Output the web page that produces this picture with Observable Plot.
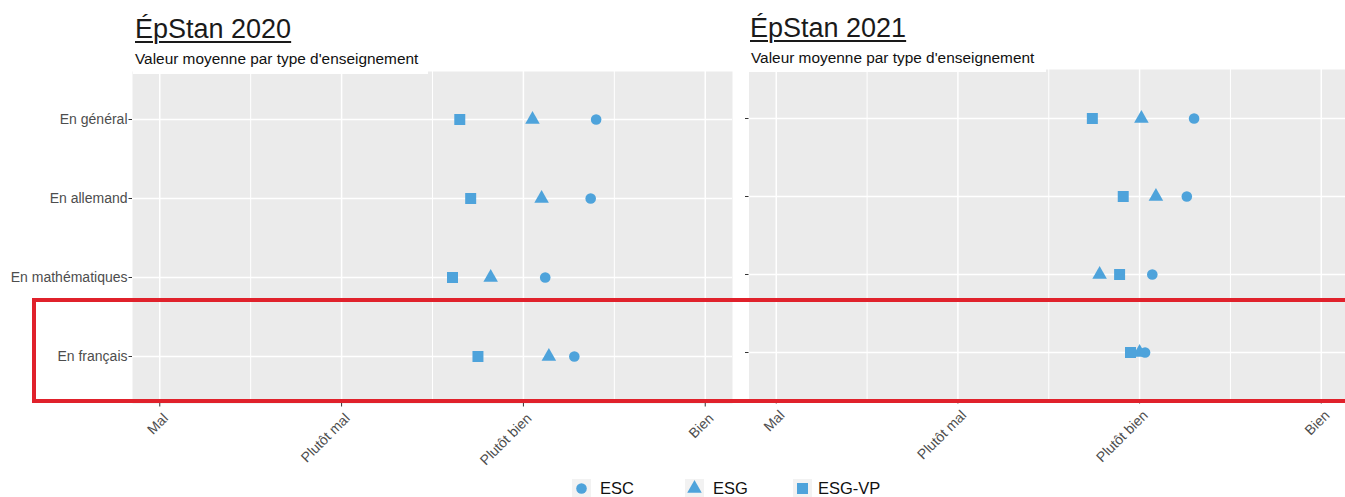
<!DOCTYPE html>
<html><head><meta charset="utf-8">
<script src="https://cdn.jsdelivr.net/npm/d3@7"></script>
<script src="https://cdn.jsdelivr.net/npm/@observablehq/plot@0.6"></script>
<style>
html,body{margin:0;padding:0;background:#fff;overflow:hidden;}
#root{position:relative;width:1345px;height:497px;overflow:hidden;font-family:"Liberation Sans",Arial,sans-serif;}
.abs{position:absolute;}
.title{font-size:27px;line-height:27px;color:#1a1a1a;text-decoration:underline;text-decoration-thickness:2px;text-underline-offset:3px;white-space:nowrap;}
.sub{font-size:15.4px;line-height:17px;color:#111;background:#fff;white-space:nowrap;box-sizing:border-box;padding-left:2px;}
.leg{font-size:16.5px;line-height:16.5px;color:#111;white-space:nowrap;}
.redbox{border:4.5px solid #e0212b;box-sizing:border-box;}
</style></head><body><div id="root"></div>
<script>
// ---- data ----
const subjects = ["En général", "En allemand", "En mathématiques", "En français"];
const seriesNames = ["ESC", "ESG", "ESG-VP"];
const tickValues = [1, 2, 3, 4];
const tickLabels = ["Mal", "Plutôt mal", "Plutôt bien", "Bien"];
const minorTicks = [1.5, 2.5, 3.5];

const esc2020   = [3.40, 3.37, 3.12, 3.28];
const esg2020   = [3.05, 3.10, 2.82, 3.14];
const esgvp2020 = [2.65, 2.71, 2.61, 2.75];

const esc2021   = [3.30, 3.26, 3.07, 3.03];
const esg2021   = [3.01, 3.09, 2.78, 3.00];
const esgvp2021 = [2.74, 2.91, 2.89, 2.95];

const titles = ["ÉpStan 2020", "ÉpStan 2021"];
const subtitle = "Valeur moyenne par type d'enseignement";

const pointColor = "#4ea3db";
const symbols = ["circle", "triangle", "square"];
const radii = [5.3, 5.4, 6.2];

const root = document.getElementById("root");

function rows(vals) { return subjects.map((s, i) => ({subject: s, value: vals[i]})); }

function panel(seriesVals, o) {
  const H = 497;
  return Plot.plot({
    width: o.width, height: H,
    marginTop: o.top, marginBottom: H - o.bottom,
    marginLeft: o.ml, marginRight: o.mr,
    style: {fontFamily: '"Liberation Sans", Arial, sans-serif', fontSize: "14px", color: "#4d4d4d", background: "transparent", overflow: "visible"},
    x: {domain: [0.85, 4.15], label: null},
    y: {type: "point", domain: subjects, padding: 0.6, label: null},
    marks: [
      Plot.frame({fill: "#ebebeb", stroke: null}),
      Plot.ruleX(minorTicks, {stroke: "white", strokeWidth: 1}),
      Plot.ruleX(tickValues, {stroke: "white", strokeWidth: 1.5}),
      Plot.ruleY(subjects, {stroke: "white", strokeWidth: 1.5}),
      Plot.axisY({tickSize: 3.5, tickPadding: 1.5, stroke: "#333", label: null,
        tickFormat: o.ylabels ? (d => d) : (() => "")}),
      Plot.axisX({ticks: tickValues, tickSize: 3.5, stroke: "#333", label: null,
        tickFormat: () => ""}),
      Plot.axisX({ticks: tickValues, tickSize: 0, label: null,
        tickRotate: -45, tickPadding: 6.5, dx: 6, dy: 6,
        tickFormat: d => tickLabels[tickValues.indexOf(d)]}),
      ...seriesVals.map((vals, k) => Plot.dot(rows(vals), {
        x: "value", y: "subject", symbol: symbols[k], r: radii[k],
        fill: pointColor, stroke: null
      }))
    ]
  });
}

const left = panel([esc2020, esg2020, esgvp2020], {width: 740, top: 71, bottom: 403, ml: 132, mr: 8, ylabels: true});
left.style.position = "absolute"; left.style.left = "0px"; left.style.top = "0px";
root.appendChild(left);

const right = panel([esc2021, esg2021, esgvp2021], {width: 616, top: 69, bottom: 400, ml: 16.5, mr: 0, ylabels: false});
right.style.position = "absolute"; right.style.left = "732px"; right.style.top = "0px";
root.appendChild(right);

function addDiv(cls, text, css) {
  const d = document.createElement("div");
  d.className = "abs " + cls;
  d.textContent = text;
  Object.assign(d.style, css);
  root.appendChild(d);
  return d;
}

// titles & subtitles
addDiv("title", titles[0], {left: "135px", top: "15.5px"});
addDiv("title", titles[1], {left: "750px", top: "14.5px"});
addDiv("sub", subtitle, {left: "133px", top: "50px", width: "295px", height: "24px"});
addDiv("sub", subtitle, {left: "749px", top: "48.5px", width: "297px", height: "23.5px"});

// highlight box
addDiv("redbox", "", {left: "32px", top: "298px", width: "1400px", height: "104.5px"});

// legend
const legX = [581, 694, 802];
const legTextX = [600, 713, 818];
seriesNames.forEach((name, k) => {
  const svg = d3.create("svg").attr("width", 19).attr("height", 19)
    .style("position", "absolute").style("left", (legX[k] - 9.5) + "px").style("top", "479px");
  svg.append("rect").attr("width", 19).attr("height", 19).attr("fill", "#f2f2f2");
  const sym = {circle: d3.symbolCircle, triangle: d3.symbolTriangle, square: d3.symbolSquare}[symbols[k]];
  svg.append("path").attr("transform", "translate(9.5,9.5)")
    .attr("d", d3.symbol(sym, Math.PI * radii[k] * radii[k])())
    .attr("fill", pointColor);
  root.appendChild(svg.node());
  addDiv("leg", name, {left: legTextX[k] + "px", top: "479.5px"});
});
</script>
</body></html>
